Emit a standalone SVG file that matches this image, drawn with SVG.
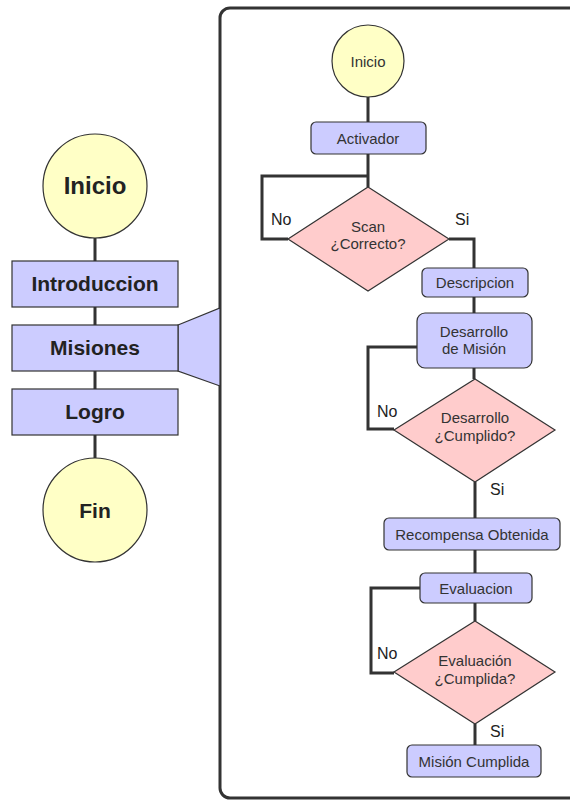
<svg xmlns="http://www.w3.org/2000/svg" width="570" height="800" viewBox="0 0 570 800">
  <style>
    .line { fill: none; stroke: #333; stroke-width: 3; }
    .term { fill: #ffffc6; stroke: #333; stroke-width: 1.2; }
    .proc { fill: #ccccff; stroke: #333; stroke-width: 1.2; }
    .dec { fill: #ffcccc; stroke: #333; stroke-width: 1.2; }
    .big { font-family: "Liberation Sans", Arial, sans-serif; font-weight: bold; fill: #222; text-anchor: middle; }
    .small { font-family: "Liberation Sans", Arial, sans-serif; font-size: 15px; fill: #333; text-anchor: middle; }
    .lbl { font-family: "Liberation Sans", Arial, sans-serif; font-size: 16px; fill: #222; }
  </style>
  <rect width="570" height="800" fill="#ffffff"/>

  <!-- detail frame -->
  <rect id="frame" x="220" y="8" width="370" height="790" rx="10" fill="none" stroke="#333" stroke-width="3"/>

  <!-- connectors -->
  <g id="connectors">
    <!-- overview column -->
    <path class="line" d="M95 238 V261 M95 307 V325 M95 371 V389 M95 435 V458"/>
    <!-- detail flow -->
    <path class="line" d="M368 97 V122 M368 154 V187"/>
    <path class="line" d="M288 239 H262 V176 H368"/>
    <path class="line" d="M449 239 H474 V268 M474 297 V313 M474 368 V379"/>
    <path class="line" d="M417 347 H368 V429 H394"/>
    <path class="line" d="M475 482 V518 M475 550 V573 M475 603 V621"/>
    <path class="line" d="M420 588 H371 V673 H394"/>
    <path class="line" d="M475 724 V745"/>
  </g>

  <!-- zoom callout from Misiones to the frame -->
  <polygon id="callout" points="178,325 220,308 220,386 178,371" fill="#ccccff" stroke="#333" stroke-width="1.2"/>

  <!-- overview nodes -->
  <g id="ov-inicio">
    <circle class="term" cx="95" cy="186" r="52"/>
    <text class="big" x="95" y="194" font-size="24">Inicio</text>
  </g>
  <g id="ov-introduccion">
    <rect class="proc" x="12" y="261" width="166" height="46"/>
    <text class="big" x="95" y="291" font-size="21">Introduccion</text>
  </g>
  <g id="ov-misiones">
    <rect class="proc" x="12" y="325" width="166" height="46"/>
    <text class="big" x="95" y="355" font-size="21">Misiones</text>
  </g>
  <g id="ov-logro">
    <rect class="proc" x="12" y="389" width="166" height="46"/>
    <text class="big" x="95" y="419" font-size="21">Logro</text>
  </g>
  <g id="ov-fin">
    <circle class="term" cx="95" cy="510" r="52"/>
    <text class="big" x="95" y="518" font-size="21">Fin</text>
  </g>

  <!-- detail nodes -->
  <g id="inicio">
    <circle class="term" cx="368" cy="61" r="36"/>
    <text class="small" x="368" y="67" font-size="16">Inicio</text>
  </g>
  <g id="activador">
    <rect class="proc" x="311" y="122" width="115" height="32" rx="5"/>
    <text class="small" x="368" y="144">Activador</text>
  </g>
  <g id="scan">
    <polygon class="dec" points="368,187 449,239 368,291 288,239"/>
    <text class="small" x="368" y="232">Scan</text>
    <text class="small" x="368" y="249">¿Correcto?</text>
  </g>
  <g id="descripcion">
    <rect class="proc" x="422" y="268" width="106" height="29" rx="5"/>
    <text class="small" x="475" y="288">Descripcion</text>
  </g>
  <g id="desarrollo">
    <rect class="proc" x="417" y="313" width="115" height="55" rx="8"/>
    <text class="small" x="474" y="337">Desarrollo</text>
    <text class="small" x="474" y="354">de Misión</text>
  </g>
  <g id="desarrollo-ok">
    <polygon class="dec" points="475,379 555,430 475,482 394,430"/>
    <text class="small" x="475" y="423">Desarrollo</text>
    <text class="small" x="475" y="441">¿Cumplido?</text>
  </g>
  <g id="recompensa">
    <rect class="proc" x="384" y="518" width="176" height="32" rx="5"/>
    <text class="small" x="472" y="540">Recompensa Obtenida</text>
  </g>
  <g id="evaluacion">
    <rect class="proc" x="420" y="573" width="112" height="30" rx="5"/>
    <text class="small" x="476" y="594">Evaluacion</text>
  </g>
  <g id="evaluacion-ok">
    <polygon class="dec" points="475,621 555,672 475,724 394,672"/>
    <text class="small" x="475" y="666">Evaluación</text>
    <text class="small" x="475" y="684">¿Cumplida?</text>
  </g>
  <g id="mision-cumplida">
    <rect class="proc" x="407" y="745" width="134" height="32" rx="5"/>
    <text class="small" x="474" y="767">Misión Cumplida</text>
  </g>

  <!-- branch labels -->
  <g id="labels">
    <text class="lbl" x="271" y="225">No</text>
    <text class="lbl" x="455" y="225">Si</text>
    <text class="lbl" x="377" y="417">No</text>
    <text class="lbl" x="490" y="495">Si</text>
    <text class="lbl" x="377" y="659">No</text>
    <text class="lbl" x="490" y="737">Si</text>
  </g>
</svg>
